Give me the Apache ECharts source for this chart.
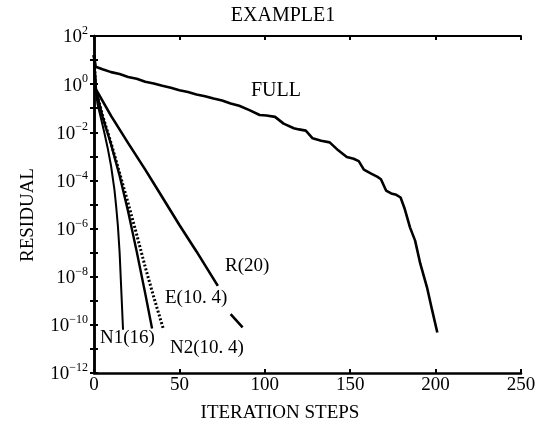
<!DOCTYPE html>
<html><head><meta charset="utf-8">
<script src="https://cdn.jsdelivr.net/npm/echarts@6/dist/echarts.min.js"></script>
<style>html,body{margin:0;padding:0;background:#fff}#c{width:539px;height:430px}</style>
</head><body><div id="c"></div>
<script>
// iteration steps and log10(residual)
var fullX = [0,1,5,10,15,20,25,30,35,40,45,50,55,60,65,70,75,80,85,91,97,101,106,111,117,120,124,128,133,138,143,148,152,155,158,162,166,168,171,174,177,179.5,182,185,188,191,195,198,201];
var fullE = [1.2,0.72,0.62,0.5,0.42,0.3,0.22,0.1,0.03,-0.07,-0.15,-0.25,-0.33,-0.43,-0.5,-0.6,-0.68,-0.8,-0.9,-1.08,-1.28,-1.3,-1.36,-1.64,-1.83,-1.88,-1.93,-2.25,-2.35,-2.42,-2.75,-3.03,-3.1,-3.2,-3.55,-3.71,-3.85,-3.95,-4.42,-4.54,-4.6,-4.71,-5.2,-5.95,-6.5,-7.45,-8.45,-9.4,-10.32];
var rX = [0,1,10,20,30,40,50,60,72.5,null,80,87];
var rE = [1.2,-0.2,-1.32,-2.45,-3.55,-4.7,-5.85,-6.95,-8.38,null,-9.55,-10.1];
var eX = [0,1,5,10,15,20,25,30,35,40.5];
var eE = [1.2,-0.2,-1.3,-2.45,-3.7,-4.95,-6.25,-7.6,-8.85,-10.15];
var n1X = [0,1,2,4,6,8,10,12,13,14,15,16,17];
var n1E = [1.2,-0.2,-0.8,-1.4,-2.0,-2.65,-3.4,-4.4,-5.1,-5.9,-7.0,-8.6,-10.2];
var n2X = [0,1,5,10,15,20,25,30,34];
var n2E = [1.2,-0.2,-1.35,-2.5,-3.8,-5.3,-6.95,-8.7,-10.15];
var xTicks = [0,50,100,150,200,250];
var yTickExp = [-12,-10,-8,-6,-4,-2,0,2];

function pts(xs, es){
  return xs.map(function(x,i){ return x===null ? [null,null] : [x, Math.pow(10, es[i])]; });
}
var FONT = 'Liberation Serif';
function yFmt(v){
  var e = Math.round(Math.log10(v));
  if (yTickExp.indexOf(e) < 0) return '';
  return '{n|10}{s|' + (e < 0 ? '\u2212' : '') + Math.abs(e) + '}';
}
var chart = echarts.init(document.getElementById('c'));
var lineBase = {type:'line', showSymbol:false, connectNulls:false, animation:false, xAxisIndex:0, yAxisIndex:0};
function ser(name, xs, es, ls){
  return Object.assign({}, lineBase, {name:name, data:pts(xs,es), lineStyle:Object.assign({color:'#000'}, ls), itemStyle:{color:'#000'}});
}
chart.setOption({
  animation:false,
  grid:{left:94, right:18, top:36, bottom:57},
  xAxis:[
    {type:'value', min:0, max:250, interval:50, position:'bottom',
     axisLine:{lineStyle:{color:'#000', width:2.5}},
     axisTick:{inside:true, length:4, lineStyle:{color:'#000', width:2}},
     axisLabel:{color:'#000', fontFamily:FONT, fontSize:19, margin:3,
       formatter:function(v){ return xTicks.indexOf(v)>=0 ? String(v) : ''; }},
     splitLine:{show:false}},
    {type:'value', min:0, max:250, interval:50, position:'top',
     axisLine:{onZero:false, lineStyle:{color:'#000', width:2}},
     axisTick:{inside:true, length:4, lineStyle:{color:'#000', width:2}},
     axisLabel:{show:false}, splitLine:{show:false}}
  ],
  yAxis:[
    {type:'log', logBase:10, min:1e-12, max:1e2, interval:1, position:'left',
     axisLine:{lineStyle:{color:'#000', width:2.5}},
     axisTick:{inside:true, length:4, lineStyle:{color:'#000', width:2}},
     axisLabel:{color:'#000', fontFamily:FONT, margin:6, formatter:yFmt,
       rich:{n:{fontFamily:FONT, fontSize:19, color:'#000', verticalAlign:'bottom', lineHeight:22},
             s:{fontFamily:FONT, fontSize:12, color:'#000', verticalAlign:'top', lineHeight:22}}},
     splitLine:{show:false}},
    {type:'log', logBase:10, min:1e-12, max:1e2, interval:1, position:'right',
     axisLine:{lineStyle:{color:'#000', width:2.5}},
     axisTick:{inside:true, length:4, lineStyle:{color:'#000', width:2}},
     axisLabel:{show:false}, splitLine:{show:false}}
  ],
  series:[
    ser('FULL', fullX, fullE, {width:2.6}),
    ser('R(20)', rX, rE, {width:2.6}),
    ser('E(10.4)', eX, eE, {width:3, type:[2,2]}),
    ser('N1(16)', n1X, n1E, {width:2}),
    ser('N2(10.4)', n2X, n2E, {width:2.4})
  ],
  graphic:[
    {type:'text', x:283, y:16, style:{text:'EXAMPLE1', font:'20px "Liberation Serif"', fill:'#000', textAlign:'center', textVerticalAlign:'middle'}},
    {type:'text', x:280, y:413, style:{text:'ITERATION STEPS', font:'19px "Liberation Serif"', fill:'#000', textAlign:'center', textVerticalAlign:'middle'}},
    {type:'text', x:28, y:215, rotation:Math.PI/2, style:{text:'RESIDUAL', font:'19px "Liberation Serif"', fill:'#000', textAlign:'center', textVerticalAlign:'middle'}},
    {type:'text', x:251, y:91, style:{text:'FULL', font:'20px "Liberation Serif"', fill:'#000', textVerticalAlign:'middle'}},
    {type:'text', x:225, y:266, style:{text:'R(20)', font:'19px "Liberation Serif"', fill:'#000', textVerticalAlign:'middle'}},
    {type:'text', x:165, y:298, style:{text:'E(10. 4)', font:'19px "Liberation Serif"', fill:'#000', textVerticalAlign:'middle'}},
    {type:'text', x:100, y:338, style:{text:'N1(16)', font:'19px "Liberation Serif"', fill:'#000', textVerticalAlign:'middle'}},
    {type:'text', x:170, y:348, style:{text:'N2(10. 4)', font:'19px "Liberation Serif"', fill:'#000', textVerticalAlign:'middle'}}
  ]
});
</script></body></html>
